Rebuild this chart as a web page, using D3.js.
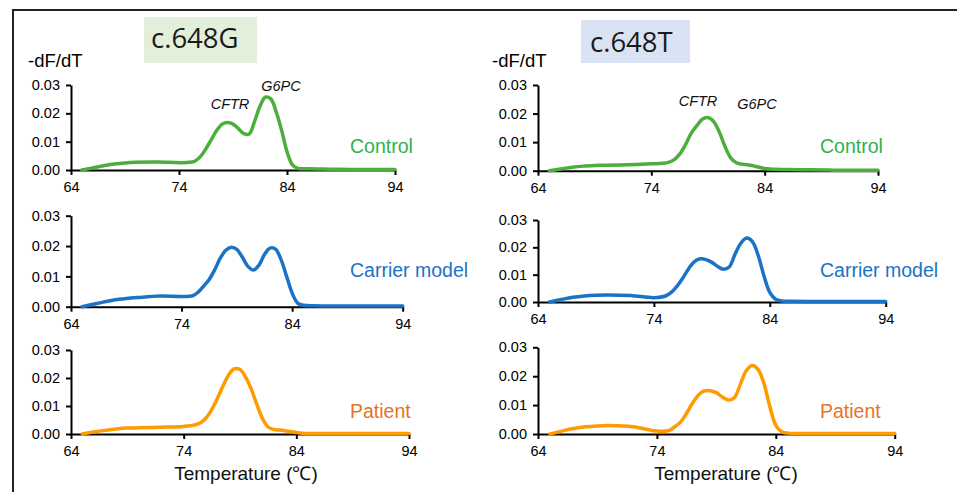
<!DOCTYPE html>
<html>
<head>
<meta charset="utf-8">
<script src="https://cdn.jsdelivr.net/npm/d3@7"></script>
<style>
  body { margin: 0; background: #fff; }
  svg { display: block; font-family: "Liberation Sans", Arial, sans-serif; }
  .axis path, .axis line { stroke: #000; stroke-width: 2; }
  .axis text { font-size: 14.5px; fill: #000; font-family: "Liberation Sans", Arial, sans-serif; }
</style>
</head>
<body>
<svg id="chart" width="957" height="492"></svg>
<script>
// ==========================
// DATA
// ==========================
const temps = [65, 66, 67, 68, 69, 70, 72, 74, 75, 75.5, 76, 76.5, 77, 77.5, 78, 78.5, 79, 79.5,
               80, 80.5, 81, 81.5, 82, 82.5, 83, 83.5, 84, 84.5, 85, 86, 88, 90, 92, 94];

// c.648G column
const gControl = [0, 0.0007, 0.0015, 0.0021, 0.0025, 0.0027, 0.0028, 0.0026, 0.0027, 0.0032, 0.0048, 0.0075,
                  0.0108, 0.014, 0.0162, 0.0168, 0.0162, 0.0146, 0.0128, 0.0127, 0.0172, 0.0225, 0.0257, 0.0251,
                  0.0205, 0.014, 0.0065, 0.0018, 0.0006, 0.0004, 0.0003, 0.0002, 0.0002, 0.0002];
const gCarrier = [0, 0.0008, 0.0016, 0.0023, 0.0027, 0.003, 0.0035, 0.0034, 0.0036, 0.0048, 0.0068, 0.009,
                  0.0122, 0.016, 0.0186, 0.0196, 0.0189, 0.0163, 0.0133, 0.0121, 0.0137, 0.0172, 0.0193, 0.019,
                  0.0155, 0.01, 0.0045, 0.0012, 0.0005, 0.0003, 0.0002, 0.0002, 0.0002, 0.0002];
const gPatient = [0, 0.0007, 0.0013, 0.0018, 0.0021, 0.0022, 0.0024, 0.0027, 0.0032, 0.004, 0.0058, 0.0088,
                  0.0128, 0.0172, 0.0212, 0.0233, 0.023, 0.0203, 0.016, 0.0105, 0.0055, 0.0025, 0.0016, 0.0014,
                  0.0012, 0.0009, 0.0005, 0.0003, 0.0002, 0.0002, 0.0002, 0.0002, 0.0002, 0.0002];

// c.648T column
const tControl = [0, 0.0006, 0.0012, 0.0016, 0.0018, 0.0019, 0.0021, 0.0024, 0.0026, 0.0029, 0.0038, 0.0058,
                  0.009, 0.013, 0.0157, 0.018, 0.0186, 0.0172, 0.0135, 0.0085, 0.0045, 0.0028, 0.0023, 0.0021,
                  0.0017, 0.0012, 0.0008, 0.0006, 0.0005, 0.0004, 0.0003, 0.0002, 0.0002, 0.0002];
const tCarrier = [0, 0.0009, 0.0017, 0.0022, 0.0025, 0.0026, 0.0024, 0.0016, 0.0022, 0.0035, 0.0058, 0.0088,
                  0.0122, 0.0148, 0.0158, 0.0155, 0.0145, 0.013, 0.012, 0.0128, 0.0175, 0.0215, 0.0234, 0.0221,
                  0.017, 0.0095, 0.0035, 0.001, 0.0004, 0.0003, 0.0002, 0.0002, 0.0002, 0.0002];
const tPatient = [0, 0.001, 0.0019, 0.0025, 0.0028, 0.0029, 0.0025, 0.001, 0.0012, 0.0025, 0.0042, 0.0072,
                  0.0107, 0.0135, 0.0149, 0.015, 0.0143, 0.0128, 0.0118, 0.0125, 0.017, 0.0218, 0.0237, 0.0224,
                  0.0175, 0.0095, 0.003, 0.0008, 0.0003, 0.0002, 0.0002, 0.0002, 0.0002, 0.0002];

const xTicks = [64, 74, 84, 94];
const yTicks = [0, 0.01, 0.02, 0.03];
const titles = ["c.648G", "c.648T"];
const seriesNames = ["Control", "Carrier model", "Patient"];

// ==========================
// LAYOUT
// ==========================
const svg = d3.select("#chart");
const colors = {
  line:  ["#4cae3c", "#1a73c6", "#ff9a00"],
  label: ["#2eb34e", "#1a73c6", "#e8731f"]
};

// one entry per panel: [left, right, bottom, top] in px
const panels = [
  { col: 0, row: 0, values: gControl, box: [71, 395, 170, 85] },
  { col: 0, row: 1, values: gCarrier, box: [71, 402.7, 306.7, 215.7] },
  { col: 0, row: 2, values: gPatient, box: [71, 409, 434, 350] },
  { col: 1, row: 0, values: tControl, box: [538, 878, 170.7, 85] },
  { col: 1, row: 1, values: tCarrier, box: [538, 885.7, 302, 220] },
  { col: 1, row: 2, values: tPatient, box: [538, 894.7, 434, 347.3] }
];

// outer frame (left + top edges)
svg.append("path")
    .attr("d", "M13,492 L13,10 L957,10")
    .attr("fill", "none")
    .attr("stroke", "#222")
    .attr("stroke-width", 2);

// column titles
const titleBoxes = [
  { x: 144, y: 17, w: 113, h: 46, fill: "#e2efda", tx: 151, ty: 48 },
  { x: 581, y: 20, w: 109, h: 43, fill: "#dae3f3", tx: 590, ty: 52 }
];
titleBoxes.forEach((b, i) => {
  svg.append("rect")
      .attr("x", b.x).attr("y", b.y)
      .attr("width", b.w).attr("height", b.h)
      .attr("fill", b.fill);
  svg.append("text")
      .attr("x", b.tx).attr("y", b.ty)
      .attr("font-family", "'Open Sans', 'Noto Sans', sans-serif")
      .attr("font-size", 27.5)
      .attr("fill", "#1a1a1a")
      .text(titles[i]);
});

// -dF/dT labels
[28, 492].forEach(x => {
  svg.append("text")
      .attr("x", x).attr("y", 67)
      .attr("font-size", 18.5)
      .attr("fill", "#000")
      .text("-dF/dT");
});

// ==========================
// PANELS
// ==========================
panels.forEach(p => {
  const [x0, x1, y0, y1] = p.box;
  const x = d3.scaleLinear().domain([64, 94]).range([x0, x1]);
  const y = d3.scaleLinear().domain([0, 0.03]).range([y0, y1]);
  const g = svg.append("g");

  g.append("g")
      .attr("class", "axis")
      .attr("transform", `translate(0,${y0})`)
      .call(d3.axisBottom(x).tickValues(xTicks).tickSize(5).tickPadding(7).tickSizeOuter(0));

  g.append("g")
      .attr("class", "axis")
      .attr("transform", `translate(${x0},0)`)
      .call(d3.axisLeft(y).tickValues(yTicks).tickFormat(d3.format(".2f")).tickSize(5).tickPadding(6).tickSizeOuter(0));

  const line = d3.line()
      .x((d, i) => x(temps[i]))
      .y(d => y(Math.max(0, d)))
      .curve(d3.curveCatmullRom.alpha(0.5));

  g.append("path")
      .datum(p.values)
      .attr("fill", "none")
      .attr("stroke", colors.line[p.row])
      .attr("stroke-width", 3.5)
      .attr("stroke-linejoin", "round")
      .attr("stroke-linecap", "round")
      .attr("d", line);

  const labelY = [153, 276.5, 418][p.row];
  g.append("text")
      .attr("x", p.col === 0 ? 350 : 820)
      .attr("y", labelY)
      .attr("font-size", 19.5)
      .attr("fill", colors.label[p.row])
      .text(seriesNames[p.row]);
});

// peak annotations
const peakLabels = [
  { text: "CFTR", x: 230, y: 109 },
  { text: "G6PC", x: 281, y: 91 },
  { text: "CFTR", x: 698, y: 106 },
  { text: "G6PC", x: 757, y: 109 }
];
svg.selectAll(".peak")
    .data(peakLabels)
    .enter()
    .append("text")
    .attr("class", "peak")
    .attr("x", d => d.x).attr("y", d => d.y)
    .attr("text-anchor", "middle")
    .attr("font-size", 14.5)
    .attr("font-style", "italic")
    .attr("fill", "#111")
    .text(d => d.text);

// x axis titles
[246, 726].forEach(cx => {
  svg.append("text")
      .attr("x", cx).attr("y", 480)
      .attr("text-anchor", "middle")
      .attr("font-size", 19)
      .attr("fill", "#111")
      .text("Temperature (℃)");
});
</script>
</body>
</html>
